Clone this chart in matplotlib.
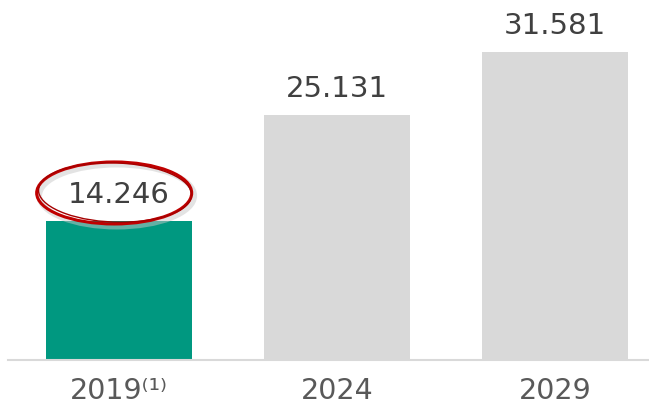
import matplotlib
matplotlib.use("Agg")
import matplotlib.pyplot as plt
from matplotlib.patches import Ellipse

# Datos del gráfico
years = ["2019⁽¹⁾", "2024", "2029"]
values = [14.246, 25.131, 31.581]
labels = ["14.246", "25.131", "31.581"]
colors = ["#009880", "#D9D9D9", "#D9D9D9"]

plt.rcParams['font.family'] = ['DejaVu Sans']

fig = plt.figure(figsize=(6.49, 4.07), dpi=100)
# ejes alineados en pixeles con la imagen de referencia
ax = fig.add_axes([8 / 649, (407 - 360) / 407, 641 / 649, 360 / 407])

x = range(len(years))
ax.bar(x, values, width=0.67, color=colors, zorder=2)

ax.set_xlim(-0.509, 2.431)
ax.set_ylim(0, 36.92)

# etiquetas de valor
for xi, v, lab in zip(x, values, labels):
    ax.annotate(lab, (xi, v), xytext=(0, 13), textcoords='offset points',
                ha='center', va='baseline', fontsize=21, color='#404040', zorder=4)

# elipse roja alrededor del primer valor (con sombra)
ax.add_patch(Ellipse((-0.01, 16.85), 0.711, 6.36, fill=False,
                     edgecolor='#C8C8C8', lw=4, alpha=0.5, zorder=3))
ax.add_patch(Ellipse((-0.022, 17.13), 0.711, 6.36, fill=False,
                     edgecolor='#C00000', lw=2.2, zorder=5))
ax.add_patch(Ellipse((-0.018, 17.18), 0.70, 6.1, angle=0.5, fill=False,
                     edgecolor='#A50000', lw=1.0, zorder=5))

ax.set_xticks(list(x))
ax.set_xticklabels(years, fontsize=20.5, color='#595959')
ax.tick_params(axis='x', length=0, pad=12)
ax.set_yticks([])

for s in ['top', 'right', 'left']:
    ax.spines[s].set_visible(False)
ax.spines['bottom'].set_color('#D9D9D9')
ax.spines['bottom'].set_linewidth(1.5)

fig.savefig("out.png", dpi=100)
